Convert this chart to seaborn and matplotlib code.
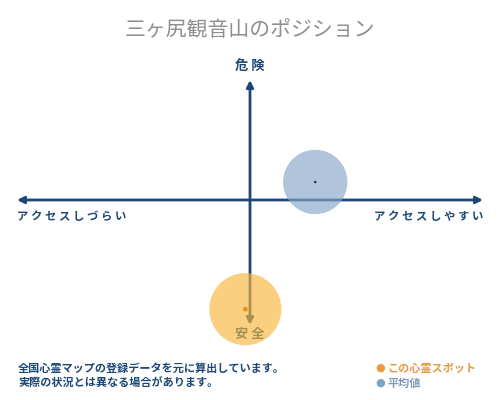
import pandas as pd
import matplotlib
matplotlib.use("Agg")
import matplotlib.pyplot as plt
import seaborn as sns

# データ
kind = ["この心霊スポット", "平均値"]
access = [-0.02, 0.28]      # アクセスしづらい(-1) 〜 アクセスしやすい(+1)
danger = [-0.91, 0.15]      # 安全(-1) 〜 危険(+1)
circle_color = ["#f8b73c", "#86a5c8"]
dot_color = ["#e8901a", "#222222"]

title = "三ヶ尻観音山のポジション"
note_lines = ["全国心霊マップの登録データを元に算出しています。",
              "実際の状況とは異なる場合があります。"]

df = pd.DataFrame({"kind": kind, "access": access, "danger": danger})

sns.set_theme(style="white")
plt.rcParams['font.family'] = ['Noto Sans CJK JP', 'DejaVu Sans']

navy = "#1d4777"
fig = plt.figure(figsize=(5, 4), dpi=100)
fig.patch.set_facecolor("white")
ax = fig.add_axes([17 / 500, 75 / 400, 466 / 500, 245 / 400])
ax.set_xlim(-1, 1)
ax.set_ylim(-1.042, 1)
ax.axis("off")

# 軸
ax.annotate("", xy=(1, 0), xytext=(-1, 0), zorder=1,
            arrowprops=dict(arrowstyle="<|-|>", color=navy, lw=2,
                            mutation_scale=10, shrinkA=0, shrinkB=0))
ax.annotate("", xy=(0, 1), xytext=(0, -1.042), zorder=1,
            arrowprops=dict(arrowstyle="<|-|>", color=navy, lw=2,
                            mutation_scale=10, shrinkA=0, shrinkB=0))

ax.text(0, 1.06, "危 険", ha="center", va="bottom", color=navy,
        fontsize=9.5, fontweight="bold", zorder=1)
ax.text(0, -1.06, "安 全", ha="center", va="top", color=navy,
        fontsize=9.5, fontweight="bold", zorder=1)
ax.text(-1, -0.08, "ア ク セ ス し づ ら い", ha="left", va="top",
        color=navy, fontsize=8.2, fontweight="bold")
ax.text(1, -0.08, "ア ク セ ス し や す い", ha="right", va="top",
        color=navy, fontsize=8.2, fontweight="bold")

# 円
sns.scatterplot(data=df, x="access", y="danger", hue="kind",
                palette=circle_color, size="kind", sizes=[2700, 2150],
                alpha=0.65, linewidth=0, legend=False, ax=ax, zorder=3,
                clip_on=False)
sns.scatterplot(data=df, x="access", y="danger", hue="kind",
                palette=dot_color, s=[12, 3], linewidth=0,
                legend=False, ax=ax, zorder=4, clip_on=False)
ax.set_xlim(-1, 1)
ax.set_ylim(-1.042, 1)

fig.text(0.5, 1 - 30 / 400, title, ha="center", va="center",
         color="#8f8f8f", fontsize=15)

fig.text(18 / 500, 1 - 368 / 400, note_lines[0], ha="left", va="center",
         color=navy, fontsize=8, fontweight="bold")
fig.text(18 / 500, 1 - 383 / 400, note_lines[1], ha="left", va="center",
         color=navy, fontsize=8, fontweight="bold")

# 凡例
leg_text_color = ["#e39a45", "#7f9bb8"]
leg_dot_color = ["#ec9a3c", "#7fa4c8"]
for i, name in enumerate(kind):
    yy = 1 - (368 + 15 * i) / 400
    fig.text(375 / 500, yy, "●", ha="left", va="center",
             color=leg_dot_color[i], fontsize=8, family=['DejaVu Sans'])
    fig.text(387 / 500, yy, name, ha="left", va="center",
             color=leg_text_color[i], fontsize=8, fontweight="bold")

fig.savefig("out.png", dpi=100, facecolor="white")
